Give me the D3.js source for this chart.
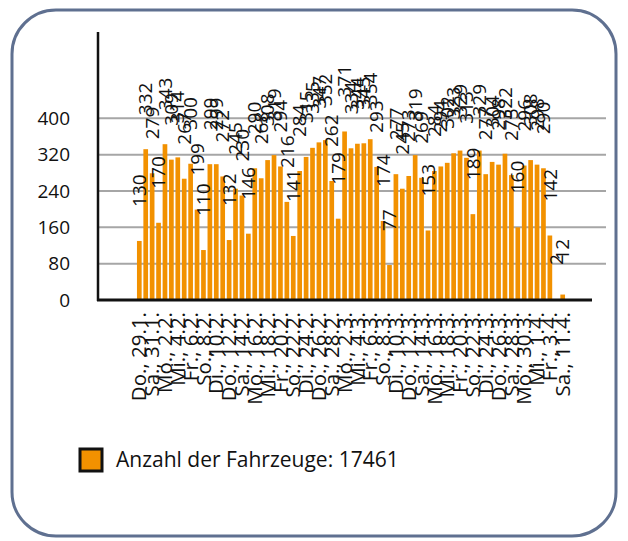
<!DOCTYPE html>
<html>
<head>
<meta charset="utf-8">
<script src="https://cdn.jsdelivr.net/npm/d3@7"></script>
<style>
  body { margin: 0; background: #fff; }
  svg text { font-family: "Open Sans", sans-serif; fill: #111; }
</style>
</head>
<body>
<div class="visualisation"></div>
<script>
// daily categories (Jan 29 - Apr 11)
const days = [
  "Do., 29.1.", "Fr., 30.1.", "Sa., 31.1.", "So., 1.2.", "Mo., 2.2.", "Di., 3.2.", "Mi., 4.2.",
  "Do., 5.2.", "Fr., 6.2.", "Sa., 7.2.", "So., 8.2.", "Mo., 9.2.", "Di., 10.2.", "Mi., 11.2.",
  "Do., 12.2.", "Fr., 13.2.", "Sa., 14.2.", "So., 15.2.", "Mo., 16.2.", "Di., 17.2.", "Mi., 18.2.",
  "Do., 19.2.", "Fr., 20.2.", "Sa., 21.2.", "So., 22.2.", "Mo., 23.2.", "Di., 24.2.", "Mi., 25.2.",
  "Do., 26.2.", "Fr., 27.2.", "Sa., 28.2.", "So., 1.3.", "Mo., 2.3.", "Di., 3.3.", "Mi., 4.3.",
  "Do., 5.3.", "Fr., 6.3.", "Sa., 7.3.", "So., 8.3.", "Mo., 9.3.", "Di., 10.3.", "Mi., 11.3.",
  "Do., 12.3.", "Fr., 13.3.", "Sa., 14.3.", "So., 15.3.", "Mo., 16.3.", "Di., 17.3.", "Mi., 18.3.",
  "Do., 19.3.", "Fr., 20.3.", "Sa., 21.3.", "So., 22.3.", "Mo., 23.3.", "Di., 24.3.", "Mi., 25.3.",
  "Do., 26.3.", "Fr., 27.3.", "Sa., 28.3.", "So., 29.3.", "Mo., 30.3.", "Di., 31.3.", "Mi., 1.4.",
  "Do., 2.4.", "Fr., 3.4.", "Sa., 4.4.", "Sa., 11.4."
];

// vehicles per day
const counts = [
  130, 332, 279, 170, 343, 309, 314, 267, 300, 199,
  110, 299, 299, 272, 132, 245, 230, 146, 290, 268,
  308, 319, 294, 216, 141, 284, 315, 335, 347, 352,
  262, 179, 371, 334, 344, 345, 354, 293, 174, 77,
  277, 245, 273, 319, 269, 153, 284, 294, 302, 323,
  329, 313, 189, 329, 277, 304, 298, 322, 275, 160,
  296, 308, 298, 290, 142, 2, 12
];

const yTicks = [0, 80, 160, 240, 320, 400];
const seriesName = "Anzahl der Fahrzeuge";

const wdth = 628, hght = 541;
const barColor = "#f29100";

const svg = d3.select(".visualisation")
  .append("svg")
  .attr("width", wdth)
  .attr("height", hght);

// card frame
svg.append("rect")
  .attr("x", 12).attr("y", 10)
  .attr("width", 604).attr("height", 526)
  .attr("rx", 44).attr("ry", 44)
  .attr("fill", "#fff")
  .attr("stroke", "#5f7090")
  .attr("stroke-width", 3);

const x = d3.scaleBand()
  .domain(days)
  .range([136, 566])
  .paddingInner(0.27)
  .paddingOuter(0.15);

const y = d3.scaleLinear()
  .domain([0, 590])
  .range([300, 32]);

// grid
svg.append("g")
  .selectAll("line")
  .data(yTicks.filter(d => d > 0))
  .enter()
  .append("line")
  .attr("x1", 98).attr("x2", 606)
  .attr("y1", d => y(d)).attr("y2", d => y(d))
  .attr("stroke", "#a6a6a6")
  .attr("stroke-width", 2);

// y axis
const yAxis = svg.append("g")
  .attr("transform", "translate(98,0)")
  .call(d3.axisLeft(y).tickValues(yTicks).tickSize(0).tickPadding(28));
yAxis.select(".domain").remove();
yAxis.selectAll("text")
  .style("font-size", "19px")
  .attr("fill", "#111");

// bars
svg.append("g")
  .selectAll("rect")
  .data(counts)
  .enter()
  .append("rect")
  .attr("x", (d, i) => x(days[i]))
  .attr("width", x.bandwidth())
  .attr("y", d => y(d))
  .attr("height", d => y(0) - y(d))
  .attr("fill", barColor);

// value labels
svg.append("g")
  .selectAll("text")
  .data(counts)
  .enter()
  .append("text")
  .attr("transform", (d, i) =>
    "translate(" + (x(days[i]) + x.bandwidth() / 2) + "," + (y(d) - 34) + ") rotate(-90)")
  .attr("dy", "0.35em")
  .style("font-size", "19px")
  .text(d => d);

// axis lines
svg.append("line")
  .attr("x1", 98).attr("x2", 98)
  .attr("y1", 32).attr("y2", 301)
  .attr("stroke", "#111").attr("stroke-width", 2.5);
svg.append("line")
  .attr("x1", 97).attr("x2", 592)
  .attr("y1", 300).attr("y2", 300)
  .attr("stroke", "#111").attr("stroke-width", 3);

// x labels, every other day
const xAxis = svg.append("g")
  .attr("transform", "translate(0,300)")
  .call(d3.axisBottom(x)
    .tickValues(days.filter((d, i) => i % 2 === 0))
    .tickSize(0)
    .tickPadding(0));
xAxis.select(".domain").remove();
xAxis.selectAll("text")
  .style("font-size", "20.5px")
  .attr("fill", "#111")
  .attr("text-anchor", "end")
  .attr("transform", "translate(0,12) rotate(-90)")
  .attr("x", 0)
  .attr("y", 0)
  .attr("dy", "0.35em");

// legend
const total = d3.sum(counts);
const legend = svg.append("g").attr("transform", "translate(80,449)");
legend.append("rect")
  .attr("width", 22).attr("height", 22)
  .attr("fill", barColor)
  .attr("stroke", "#111")
  .attr("stroke-width", 3);
legend.append("text")
  .attr("x", 36).attr("y", 18)
  .style("font-size", "21px")
  .attr("fill", "#222")
  .text(seriesName + ": " + total);
</script>
</body>
</html>
